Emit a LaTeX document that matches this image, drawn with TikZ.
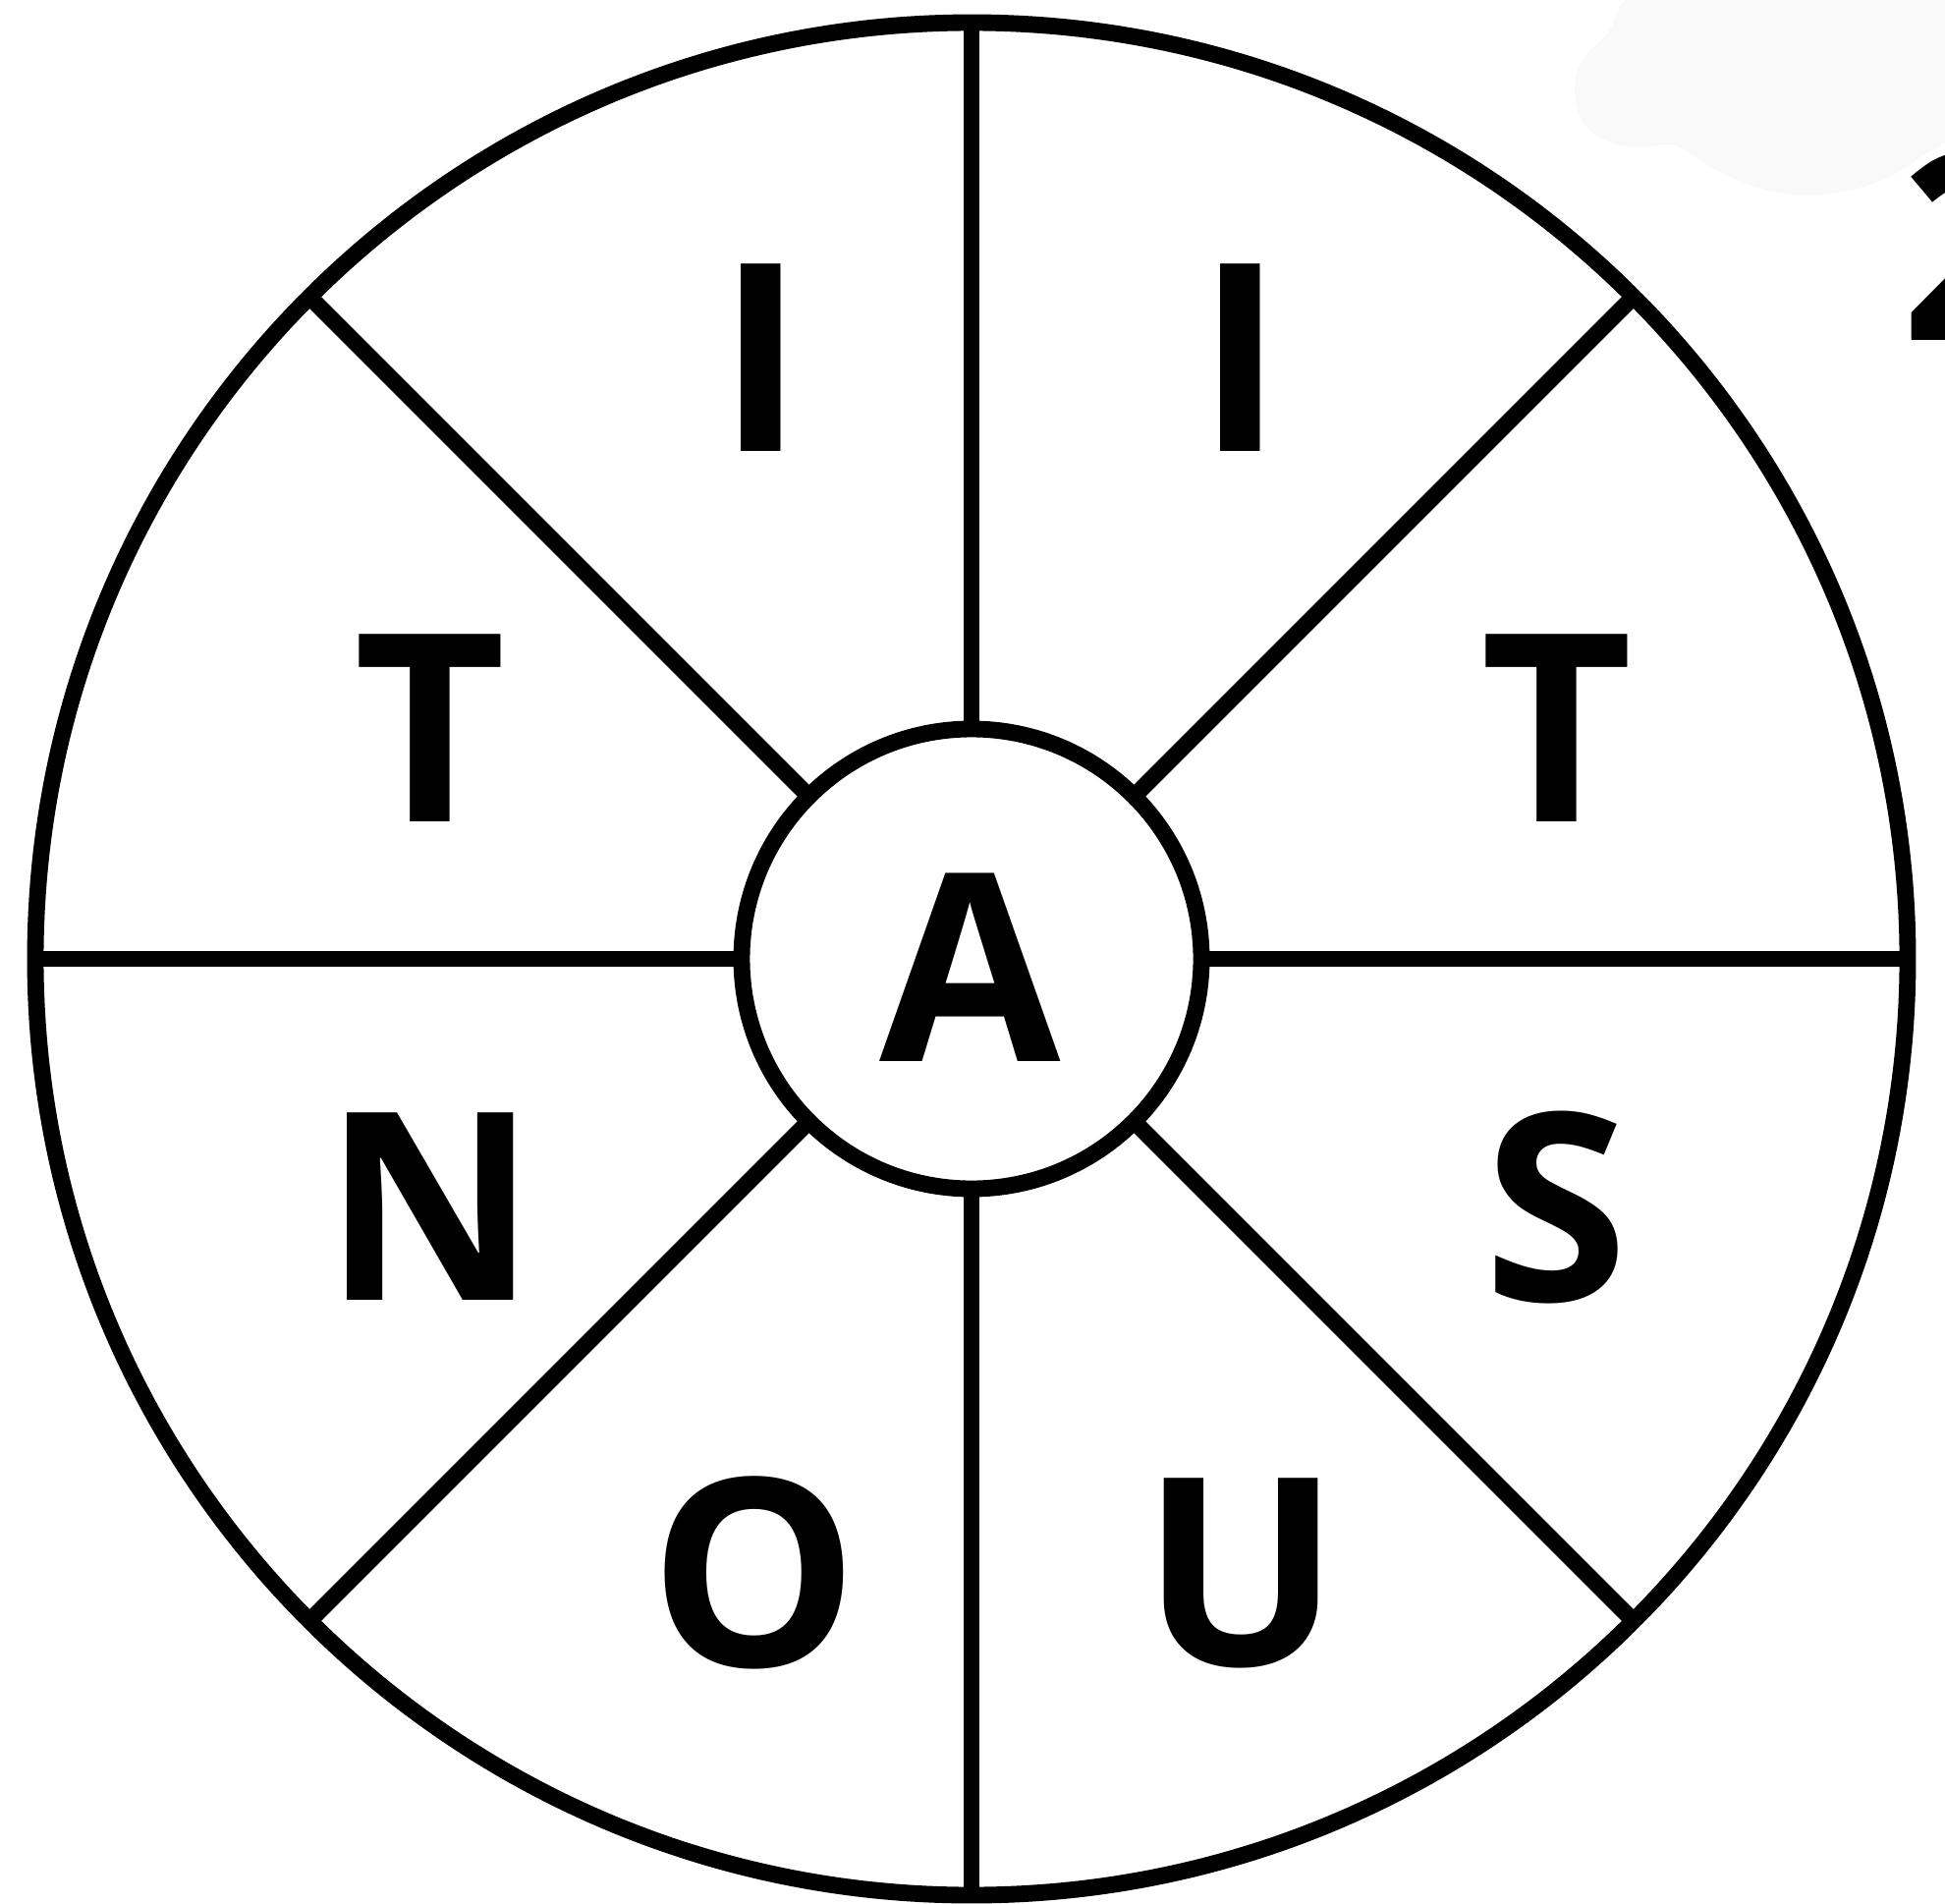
\documentclass[tikz,border=0pt]{standalone}
\usepackage{fontspec}
\newfontfamily\wheelfont{Open Sans}
\definecolor{blobgray}{RGB}{249,249,249}
\begin{document}
\begin{tikzpicture}[x=0.01cm, y=-0.01cm,
    ring/.style={circle, draw, line width=4.8pt, inner sep=0pt, outer sep=0pt},
    letter/.style={inner sep=0pt, font=\wheelfont\bfseries\fontsize{76}{80}\selectfont}]
        \clip (0,0) rectangle (1980,1937);
        % faint smudge in the corner
        \fill[blobgray] plot[smooth cycle, tension=0.6] coordinates {(1655,0) (1638,32) (1610,62) (1603,92) (1610,122) (1632,142) (1668,150) (1705,148) (1745,172) (1800,194) (1855,198) (1910,186) (1955,160) (1995,120) (1995,-10) (1700,-10)};
        \node[letter, anchor=west] (tag) at (1935,250) {2};

        \node[ring, minimum size=1906*0.01cm] (rim) at (989,976) {};
        \node[ring, minimum size=468*0.01cm] (hub) at (989,976) {};
        \foreach \ang in {0,45,...,315}
            \draw[line width=4.8pt] (hub.\ang) -- (rim.\ang);

        \node[letter] (hubA) at (988,985) {A};
        \node[letter] (iL) at (775,364) {I}; % 112.5
        \node[letter] (iR) at (1263,364) {I}; % 67.5
        \node[letter] (tL) at (438,741) {T};
        \node[letter] (tR) at (1585,741) {T};
        \node[letter] (nL) at (438,1228) {N};
        \node[letter] (sR) at (1584,1229) {S};
        \node[letter] (oL) at (768,1601) {O};
        \node[letter] (uR) at (1263,1601) {U};
    \end{tikzpicture}
\end{document}
